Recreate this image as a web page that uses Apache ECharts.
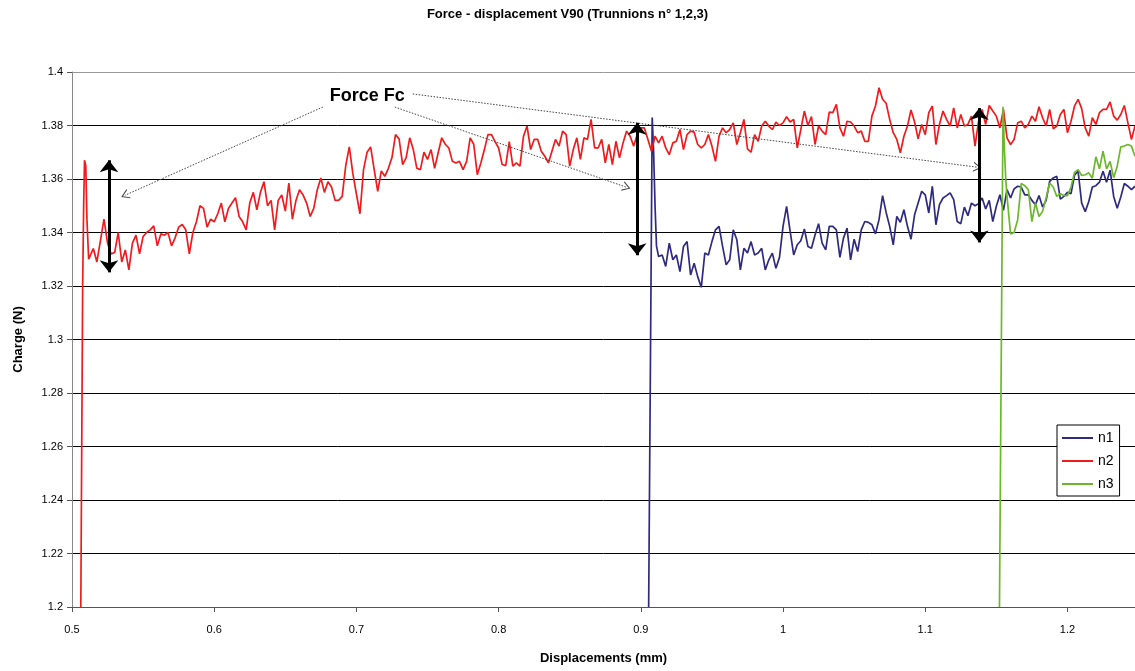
<!DOCTYPE html>
<html>
<head>
<meta charset="utf-8">
<title>Force - displacement V90</title>
<script src="https://cdn.jsdelivr.net/npm/echarts@6/dist/echarts.min.js"></script>
<style>
  html, body { margin: 0; padding: 0; background: #fff; }
  #chart { width: 1135px; height: 671px; }
</style>
</head>
<body>
<div id="chart"></div>
<script>
// Sampling grid shared by the three traces (displacement in mm)
const SAMPLE_START = 0.5125;
const SAMPLE_STEP = 0.0025;

const seriesNames = ['n1', 'n2', 'n3'];
const xTicks = [0.5, 0.6, 0.7, 0.8, 0.9, 1.0, 1.1, 1.2];

// n2: loading ramp, then sampled charge from index 0
const n2Lead = [[0.5062, 1.2], [0.5075, 1.32], [0.5082, 1.35], [0.5088, 1.367], [0.5097, 1.365], [0.5105, 1.345], [0.5117, 1.330]];
const n2StartIndex = 0;
const n2Values = [
  1.331, 1.334, 1.329, 1.337, 1.345, 1.336, 1.332, 1.3325, 1.340, 1.329,
  1.3335, 1.326, 1.336, 1.339, 1.332, 1.3385, 1.340, 1.341, 1.3425, 1.335,
  1.3395, 1.339, 1.340, 1.335, 1.338, 1.342, 1.343, 1.341, 1.332, 1.340,
  1.344, 1.350, 1.349, 1.342, 1.345, 1.344, 1.347, 1.351, 1.344, 1.349,
  1.351, 1.353, 1.346, 1.344, 1.341, 1.351, 1.355, 1.3485, 1.355, 1.359,
  1.350, 1.352, 1.341, 1.352, 1.354, 1.348, 1.3585,
  1.345, 1.352, 1.356, 1.354, 1.351, 1.346, 1.349, 1.356, 1.3604, 1.355,
  1.359, 1.357, 1.352, 1.352, 1.3535, 1.365, 1.372, 1.362, 1.3544, 1.347,
  1.3635, 1.370, 1.372, 1.3635, 1.3554, 1.363, 1.361, 1.364, 1.368, 1.3766,
  1.375, 1.3654, 1.368, 1.3754, 1.371, 1.364, 1.3635, 1.370, 1.3673, 1.371,
  1.364, 1.3698, 1.3754, 1.373, 1.3716, 1.3666, 1.366, 1.3666, 1.3635, 1.3666,
  1.3754, 1.373, 1.3616, 1.366, 1.371, 1.3766, 1.3766, 1.374, 1.3716, 1.3654,
  1.365, 1.374,
  1.3648, 1.366, 1.3648, 1.376, 1.3798, 1.371, 1.3748, 1.3748, 1.3704, 1.3685,
  1.366, 1.3704, 1.3748, 1.3723, 1.3779, 1.3766, 1.3648, 1.371, 1.3754, 1.3673,
  1.3754, 1.3748, 1.3823, 1.3716, 1.3716, 1.3748, 1.366, 1.3729, 1.3654, 1.3741,
  1.3679, 1.3735, 1.3779, 1.376, 1.3723, 1.3766, 1.3791, 1.3791, 1.3748, 1.3704,
  1.376, 1.3735, 1.376, 1.3716, 1.3691, 1.3735, 1.3741, 1.3785, 1.371, 1.3766,
  1.3779, 1.3775, 1.3729, 1.3716, 1.3729, 1.3766, 1.3723, 1.3666, 1.376, 1.3791,
  1.3773,
  1.3785, 1.381, 1.3729, 1.3773, 1.3823, 1.3713, 1.370, 1.3766, 1.3741, 1.3798,
  1.3816, 1.3798, 1.3785, 1.3813, 1.380, 1.381, 1.3833, 1.3813, 1.3823, 1.3716,
  1.3785, 1.3854, 1.380, 1.3833, 1.3729, 1.3798, 1.3779, 1.3766, 1.385, 1.3848,
  1.3879, 1.3791, 1.376, 1.3816, 1.3813, 1.3798, 1.3773, 1.3779, 1.3741, 1.3741,
  1.3835, 1.3873, 1.3941, 1.3898, 1.3883, 1.3823, 1.3773, 1.3748, 1.3698, 1.376,
  1.3798, 1.3858, 1.3813, 1.375, 1.3804, 1.3766, 1.3848, 1.3873, 1.3729, 1.3804,
  1.3854, 1.3823,
  1.3798, 1.3866, 1.3791, 1.3841, 1.3798, 1.3804, 1.3835, 1.3723, 1.3816, 1.386,
  1.3804, 1.3875, 1.3854, 1.3835, 1.3791, 1.386, 1.3754, 1.3729, 1.3748, 1.381,
  1.3816, 1.3791, 1.3804, 1.3835, 1.3816, 1.387, 1.3829, 1.3798, 1.386, 1.3788,
  1.3798, 1.3841, 1.386, 1.3773, 1.3816, 1.3873, 1.3898, 1.3863, 1.3791, 1.376,
  1.3829, 1.3804, 1.3848, 1.386, 1.386, 1.3888, 1.3835, 1.382, 1.3841, 1.3875,
  1.381, 1.3748, 1.3798
];

// n1: loading ramp, then sampled charge from index 160
const n1Lead = [[0.9055, 1.2], [0.9080, 1.383], [0.9090, 1.37], [0.9100, 1.35], [0.9110, 1.335]];
const n1StartIndex = 160;
const n1Values = [
  1.331, 1.3316, 1.3273, 1.336, 1.3298, 1.3316, 1.3254, 1.3348, 1.3366, 1.3241,
  1.3285, 1.3235, 1.3195, 1.3323, 1.3316, 1.3366, 1.341, 1.3423, 1.3348, 1.3279,
  1.3298, 1.341, 1.3373, 1.326, 1.3341, 1.3323, 1.3366, 1.3316, 1.3323, 1.3341,
  1.326, 1.3298, 1.3323, 1.3266, 1.3307, 1.3423, 1.3498, 1.3404, 1.3316, 1.3354,
  1.3369, 1.3413, 1.3348, 1.3341, 1.3391, 1.3433, 1.336, 1.3335, 1.3423, 1.3423,
  1.341, 1.3307, 1.3379, 1.3416, 1.3298, 1.3375, 1.3329, 1.341, 1.3441, 1.3438,
  1.3429, 1.3395, 1.3448, 1.3538, 1.3475, 1.3423, 1.3354, 1.346, 1.3438, 1.3485,
  1.3423, 1.3375, 1.3466, 1.351, 1.3554, 1.3541, 1.3473, 1.3573, 1.3429, 1.3504,
  1.3529, 1.3538,
  1.3548, 1.3523, 1.3441, 1.3433, 1.3495, 1.3463, 1.351, 1.35, 1.3508, 1.3529,
  1.3488, 1.352, 1.3441, 1.3498, 1.3541, 1.3483, 1.356, 1.3529, 1.3563, 1.3573,
  1.357, 1.3541, 1.3541, 1.352, 1.3504, 1.3538, 1.3495, 1.352, 1.3591, 1.3604,
  1.361, 1.3525, 1.3535, 1.355, 1.3545, 1.3615, 1.3629, 1.351, 1.3478, 1.3516,
  1.357, 1.3575, 1.3588, 1.3629, 1.3588, 1.3633, 1.3535, 1.3491, 1.3533, 1.3583,
  1.3573, 1.356, 1.3573
];

// n3: loading ramp, then sampled charge from index 258
const n3Lead = [[1.1522, 1.2], [1.1547, 1.387], [1.1556, 1.372], [1.1566, 1.360]];
const n3StartIndex = 258;
const n3Values = [
  1.3535, 1.3395, 1.34, 1.3448, 1.3583, 1.3575, 1.356, 1.3441, 1.351, 1.346,
  1.3479, 1.3529, 1.3585, 1.357, 1.3535, 1.3545, 1.3538, 1.3538, 1.357, 1.3625,
  1.3635, 1.3613, 1.3616, 1.3623, 1.3603, 1.3683, 1.3638, 1.3704, 1.3638, 1.3666,
  1.3605, 1.3648, 1.372, 1.3723, 1.3729, 1.3723, 1.3685
];

// "Force Fc" callout: label anchor, leader lines and the measured force spans
const calloutText = 'Force Fc';
const calloutAnchor = [0.7077, 1.391];
const leaderLines = [
  [[0.6764, 1.3869], [0.5372, 1.3539]],
  [[0.7270, 1.3869], [0.8900, 1.3569]],
  [[0.7396, 1.3918], [1.1367, 1.3644]]
];
const forceSpans = [
  [[0.5260, 1.3670], [0.5260, 1.3251]],
  [[0.8974, 1.3810], [0.8974, 1.3315]],
  [[1.1380, 1.3865], [1.1380, 1.3363]]
];

function toPairs(lead, startIndex, values) {
  const pts = lead.slice();
  values.forEach(function (v, j) {
    const x = +(SAMPLE_START + (startIndex + j) * SAMPLE_STEP).toFixed(4);
    pts.push([x, v]);
  });
  return pts;
}

const FONT = '"Liberation Sans", Arial, sans-serif';
const openArrow = 'path://M0,10 L5,0 L10,10 L8.8,10 L5,2.4 L1.2,10 Z';

const markLineData = [];
leaderLines.forEach(function (seg) {
  markLineData.push([
    { coord: seg[0], symbol: 'none', lineStyle: { color: '#444', width: 1, type: [1.5, 1.5] } },
    { coord: seg[1], symbol: openArrow, symbolSize: [10, 8] }
  ]);
});
forceSpans.forEach(function (seg) {
  markLineData.push([
    { coord: seg[0], symbol: 'arrow', symbolSize: [14, 12], lineStyle: { color: '#000', width: 3, type: 'solid' } },
    { coord: seg[1], symbol: 'arrow', symbolSize: [14, 12] }
  ]);
});

const chart = echarts.init(document.getElementById('chart'), null, { renderer: 'canvas' });

const option = {
  animation: false,
  backgroundColor: '#fff',
  textStyle: { fontFamily: FONT },
  title: {
    text: 'Force - displacement V90 (Trunnions n° 1,2,3)',
    left: 'center',
    top: 3,
    textStyle: { fontFamily: FONT, fontSize: 13, fontWeight: 'bold', color: '#000' }
  },
  legend: {
    data: seriesNames,
    orient: 'vertical',
    left: 1057,
    top: 425,
    icon: 'rect',
    itemWidth: 31,
    itemHeight: 2,
    itemGap: 9,
    padding: [6, 6, 5, 5],
    backgroundColor: '#fff',
    borderColor: '#000',
    borderWidth: 1,
    selectedMode: false,
    textStyle: { fontFamily: FONT, fontSize: 14, color: '#000' }
  },
  grid: { left: 72, right: 0, top: 72, bottom: 64, containLabel: false },
  xAxis: {
    type: 'value',
    min: 0.5,
    max: 1.2475,
    interval: 0.1,
    name: 'Displacements (mm)',
    nameLocation: 'middle',
    nameGap: 45,
    nameTextStyle: { fontFamily: FONT, fontSize: 13, fontWeight: 'bold', color: '#000' },
    axisLine: { show: true, lineStyle: { color: '#555', width: 1 } },
    axisTick: { show: true, length: 5, inside: false, customValues: xTicks, lineStyle: { color: '#555' } },
    axisLabel: { customValues: xTicks, margin: 17, fontSize: 11, color: '#000', fontFamily: FONT },
    splitLine: { show: false }
  },
  yAxis: {
    type: 'value',
    min: 1.2,
    max: 1.4,
    interval: 0.02,
    name: 'Charge (N)',
    nameLocation: 'middle',
    nameGap: 47,
    nameRotate: 90,
    nameTextStyle: { fontFamily: FONT, fontSize: 13, fontWeight: 'bold', color: '#000' },
    axisLine: { show: true, lineStyle: { color: '#888', width: 1 } },
    axisTick: { show: true, length: 5, inside: false, lineStyle: { color: '#555' } },
    axisLabel: { margin: 9, fontSize: 11, color: '#000', fontFamily: FONT },
    splitLine: {
      show: true,
      lineStyle: {
        color: ['#555', '#000', '#000', '#000', '#000', '#000', '#000', '#000', '#000', '#000', '#999'],
        width: 1
      }
    }
  },
  series: [
    {
      name: 'n1',
      type: 'line',
      data: toPairs(n1Lead, n1StartIndex, n1Values),
      showSymbol: false,
      symbol: 'none',
      color: '#2e2a80',
      lineStyle: { color: '#2e2a80', width: 1.7 },
      silent: true
    },
    {
      name: 'n2',
      type: 'line',
      data: toPairs(n2Lead, n2StartIndex, n2Values),
      showSymbol: false,
      symbol: 'none',
      color: '#ee1c1c',
      lineStyle: { color: '#ee1c1c', width: 1.7 },
      silent: true
    },
    {
      name: 'n3',
      type: 'line',
      data: toPairs(n3Lead, n3StartIndex, n3Values),
      showSymbol: false,
      symbol: 'none',
      color: '#6cb82c',
      lineStyle: { color: '#6cb82c', width: 1.7 },
      silent: true,
      markLine: {
        silent: true,
        animation: false,
        label: { show: false },
        emphasis: { disabled: true },
        data: markLineData
      },
      markPoint: {
        silent: true,
        animation: false,
        data: [{
          coord: calloutAnchor,
          symbol: 'rect',
          symbolSize: 1,
          itemStyle: { color: 'rgba(0,0,0,0)' },
          label: {
            show: true,
            position: 'inside',
            formatter: calloutText,
            fontFamily: FONT,
            fontSize: 18,
            fontWeight: 'bold',
            color: '#000'
          }
        }]
      }
    }
  ]
};

chart.setOption(option);
</script>
</body>
</html>
